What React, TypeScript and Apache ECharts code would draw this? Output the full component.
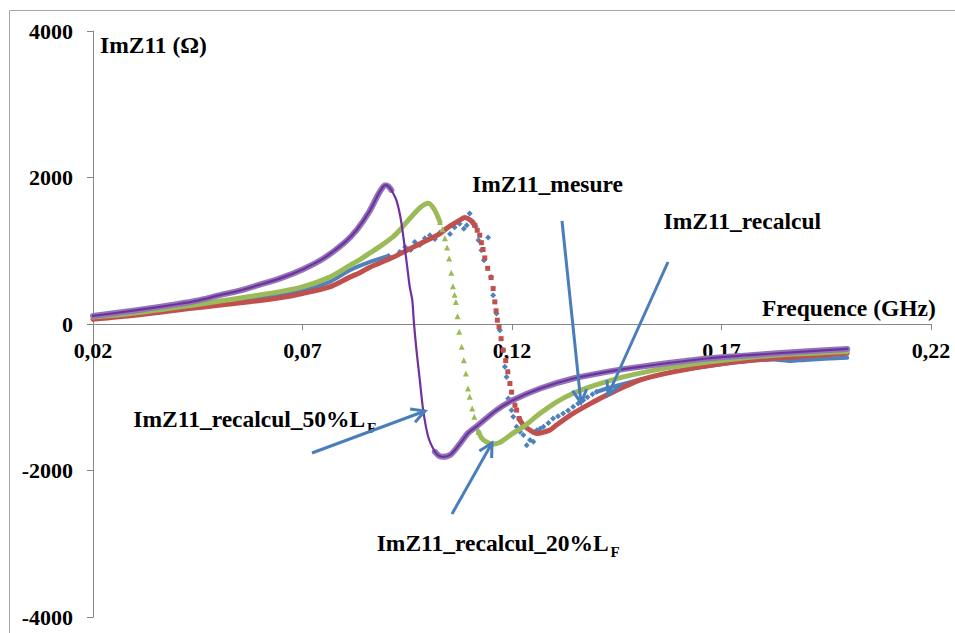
import React, { useEffect, useRef } from 'react';
import * as echarts from 'echarts';

type Pt = [number, number];

// ---- data (frequency GHz, ImZ11 Ohm) ----
const blueMesure: Pt[] = [
  [0.02, 80], [0.03, 135], [0.043, 230], [0.05, 275], [0.0574, 325], [0.065, 400], [0.07, 460],
  [0.0765, 575], [0.0813, 734], [0.0861, 847], [0.0905, 930],
  [0.0932, 984], [0.0945, 1050], [0.0958, 1010], [0.0968, 1120], [0.098, 1080], [0.0992, 1170],
  [0.1004, 1212], [0.1016, 1160], [0.1028, 1250], [0.104, 1290], [0.1052, 1230], [0.1063, 1320],
  [0.1075, 1370], [0.1085, 1300], [0.1092, 1348], [0.1099, 1508], [0.1106, 1400], [0.1113, 1330],
  [0.112, 1143], [0.1127, 1007], [0.1133, 870], [0.1143, 1180], [0.115, 640], [0.1155, 393],
  [0.1163, 143], [0.1171, -85], [0.1179, -357], [0.1183, -585], [0.1187, -722], [0.1191, -1017],
  [0.1199, -1176], [0.1203, -1267], [0.1211, -1404], [0.1219, -1470], [0.1227, -1517], [0.1235, -1654],
  [0.1243, -1585], [0.1251, -1608], [0.1259, -1449], [0.1267, -1430], [0.1275, -1404], [0.1287, -1350],
  [0.1298, -1290], [0.131, -1260], [0.1322, -1221], [0.1334, -1180], [0.1346, -1131], [0.1358, -1085],
  [0.137, -1040], [0.138, -1000], [0.1392, -960],
  [0.1402, -926], [0.1426, -880], [0.1505, -760], [0.1585, -650], [0.1704, -545], [0.1824, -485],
  [0.1864, -505], [0.19, -490], [0.2, -460],
];

const redRecalcul: Pt[] = [
  [0.02, 65], [0.03, 120], [0.043, 210], [0.05, 255], [0.0574, 302], [0.065, 360], [0.07, 416],
  [0.0765, 506], [0.0813, 640], [0.0837, 700], [0.0861, 775], [0.0916, 910], [0.0957, 1030],
  [0.1, 1150], [0.1028, 1235], [0.105, 1330], [0.1075, 1416], [0.1087, 1453], [0.11, 1420], [0.1111, 1348],
  [0.1117, 1280], [0.1123, 1212], [0.1127, 1110], [0.1131, 1017], [0.1135, 902], [0.1142, 760],
  [0.115, 634], [0.1155, 484], [0.1159, 302], [0.1162, 180], [0.1165, 52], [0.1169, -40],
  [0.1174, -200], [0.1179, -357], [0.1185, -500], [0.119, -653], [0.1195, -812], [0.1199, -930],
  [0.1203, -1040], [0.1207, -1110], [0.1211, -1176], [0.1217, -1290],
  [0.1227, -1380], [0.1243, -1449], [0.1259, -1494], [0.129, -1449], [0.1306, -1380], [0.1346, -1221],
  [0.1386, -1090], [0.1426, -971], [0.1505, -767], [0.1585, -653], [0.1704, -539], [0.1824, -471],
  [0.2, -400],
];

const greenRecalcul20: Pt[] = [
  [0.02, 95], [0.03, 150], [0.043, 250], [0.05, 310], [0.0574, 375], [0.065, 445], [0.07, 506],
  [0.0765, 640], [0.0813, 800], [0.0837, 880], [0.0861, 970], [0.0885, 1060], [0.0916, 1190],
  [0.0935, 1300], [0.0956, 1440], [0.0981, 1590], [0.1, 1648], [0.1015, 1560], [0.1028, 1393],
  [0.1034, 1293], [0.104, 1170], [0.1045, 1044], [0.105, 894], [0.1055, 700], [0.1059, 516],
  [0.1063, 400], [0.1066, 302], [0.107, 106], [0.1074, -107], [0.108, -312], [0.1085, -494],
  [0.109, -675], [0.1095, -880], [0.1099, -994], [0.1105, -1153], [0.111, -1267], [0.1115, -1381],
  [0.112, -1470],
  [0.1128, -1560], [0.1139, -1609], [0.1155, -1640], [0.117, -1620], [0.12, -1500], [0.1227, -1404],
  [0.1265, -1230], [0.1307, -1063], [0.1345, -950], [0.1386, -858], [0.1466, -722], [0.1585, -585],
  [0.1704, -494], [0.1824, -426], [0.2, -375],
];

const purpleRecalcul50: Pt[] = [
  [0.02, 110], [0.03, 185], [0.04, 270], [0.045, 320], [0.05, 390], [0.055, 455], [0.06, 540],
  [0.065, 630], [0.07, 745], [0.075, 895], [0.08, 1110], [0.083, 1290], [0.086, 1540], [0.088, 1760],
  [0.0892, 1870], [0.0898, 1895], [0.0905, 1880], [0.0912, 1830], [0.0924, 1690], [0.0935, 1416],
  [0.0948, 870], [0.0956, 506], [0.0962, 325], [0.0966, 10], [0.0972, -357], [0.098, -767],
  [0.0988, -1176], [0.1, -1540], [0.1016, -1745], [0.1026, -1800], [0.1036, -1813], [0.1055, -1775],
  [0.1075, -1640], [0.1095, -1490], [0.1115, -1400], [0.1163, -1176], [0.1202, -1040], [0.1267, -880],
  [0.1346, -744], [0.1426, -653], [0.1505, -585], [0.1665, -471], [0.1824, -403], [0.2, -340],
];

// ranges where the markers are spread out (drawn as separate symbols)
const blueScatterRange: [number, number] = [0.0905, 0.1402];
const redDropRange: [number, number] = [0.1111, 0.1217];
const greenDropRange: [number, number] = [0.1028, 0.112];
const purpleThinRange: [number, number] = [0.0912, 0.1016];

const annotations = {
  mesure: 'ImZ11_mesure',
  recalcul: 'ImZ11_recalcul',
  r50: 'ImZ11_recalcul_50%L',
  r20: 'ImZ11_recalcul_20%L',
  sub: 'F',
  yName: 'ImZ11 (Ω)',
  xName: 'Frequence (GHz)',
};

const FONT = "'Liberation Serif', 'Times New Roman', serif";
const ARROW = '#4A7EBB';
const AXIS = '#868686';

const GRID_TOP = 31;
const GRID_BOTTOM = 16;
const CHART_H = 633;

const outside = (d: Pt[], r: [number, number], side: 'lo' | 'hi') =>
  d.filter((p) => (side === 'lo' ? p[0] <= r[0] : p[0] >= r[1]));
const inside = (d: Pt[], r: [number, number]) => d.filter((p) => p[0] >= r[0] && p[0] <= r[1]);

const lineS = (data: Pt[], color: string, width: number, z: number) => ({
  type: 'line',
  data,
  symbol: 'none',
  showSymbol: false,
  smooth: 0.25,
  lineStyle: { color, width, cap: 'round', join: 'round' },
  z,
  silent: true,
});
const scatS = (data: Pt[], color: string, symbol: string, size: number, z: number) => ({
  type: 'scatter',
  data,
  symbol,
  symbolSize: size,
  itemStyle: { color, opacity: 1 },
  z,
  silent: true,
});

function arrow(x1: number, y1: number, x2: number, y2: number) {
  const ang = Math.atan2(y2 - y1, x2 - x1);
  const L = 15;
  const a = (28 * Math.PI) / 180;
  const p1 = [x2 - L * Math.cos(ang - a), y2 - L * Math.sin(ang - a)];
  const p2 = [x2 - L * Math.cos(ang + a), y2 - L * Math.sin(ang + a)];
  return [
    { type: 'line', shape: { x1, y1, x2, y2 }, style: { stroke: ARROW, lineWidth: 3 }, z: 100 },
    {
      type: 'polyline',
      shape: { points: [p1, [x2, y2], p2] },
      style: { stroke: ARROW, lineWidth: 3, fill: null, lineJoin: 'miter' },
      z: 100,
    },
  ];
}

const txt = (text: string, x: number, y: number, size = 23.5) => ({
  type: 'text',
  x,
  y,
  z: 100,
  style: {
    text,
    fill: '#000',
    fontFamily: FONT,
    fontWeight: 'bold',
    fontSize: size,
    align: 'left',
    verticalAlign: 'middle',
  },
});

export default function App() {
  const ref = useRef<HTMLDivElement>(null);
  useEffect(() => {
    if (!ref.current) return;
    const chart = echarts.init(ref.current, undefined, { renderer: 'svg' });
    // x axis sits on y = 0, which is the middle of the symmetric y range
    const gridH = CHART_H - GRID_TOP - GRID_BOTTOM;
    const option: any = {
      animation: false,
      backgroundColor: '#fff',
      grid: {
        left: 93,
        right: 24,
        top: GRID_TOP,
        bottom: GRID_BOTTOM,
        containLabel: false,
        outerBoundsMode: 'none',
      },
      xAxis: {
        type: 'value',
        position: 'bottom',
        offset: -gridH / 2,
        min: 0.02,
        max: 0.22,
        interval: 0.05,
        axisLine: { show: true, onZero: false, lineStyle: { color: AXIS, width: 1 } },
        axisTick: { show: true, length: 6, lineStyle: { color: AXIS } },
        splitLine: { show: false },
        axisLabel: {
          margin: 15,
          color: '#000',
          fontFamily: FONT,
          fontWeight: 'bold',
          fontSize: 22,
          formatter: (v: number) => v.toFixed(2).replace('.', ','),
        },
      },
      yAxis: {
        type: 'value',
        min: -4000,
        max: 4000,
        interval: 2000,
        axisLine: { show: true, onZero: false, lineStyle: { color: AXIS, width: 1 } },
        axisTick: { show: true, length: 6, lineStyle: { color: AXIS } },
        splitLine: { show: false },
        axisLabel: {
          margin: 20,
          color: '#000',
          fontFamily: FONT,
          fontWeight: 'bold',
          fontSize: 22,
          formatter: (v: number) => String(Math.round(v)),
        },
      },
      series: [
        lineS(outside(blueMesure, blueScatterRange, 'lo'), '#4F81BD', 4, 2),
        scatS(inside(blueMesure, blueScatterRange), '#4F81BD', 'diamond', 6, 2),
        lineS(outside(blueMesure, blueScatterRange, 'hi'), '#4F81BD', 4, 2),
        lineS(outside(redRecalcul, redDropRange, 'lo'), '#C0504D', 5, 3),
        scatS(inside(redRecalcul, redDropRange), '#C0504D', 'rect', 5, 3),
        lineS(outside(redRecalcul, redDropRange, 'hi'), '#C0504D', 5, 3),
        lineS(outside(greenRecalcul20, greenDropRange, 'lo'), '#9BBB59', 5, 4),
        scatS(inside(greenRecalcul20, greenDropRange), '#9BBB59', 'triangle', 6, 4),
        lineS(outside(greenRecalcul20, greenDropRange, 'hi'), '#9BBB59', 5, 4),
        lineS(outside(purpleRecalcul50, purpleThinRange, 'lo'), '#9077B6', 6, 5),
        lineS(outside(purpleRecalcul50, purpleThinRange, 'hi'), '#9077B6', 6, 5),
        lineS(purpleRecalcul50, '#7030A0', 2.2, 6),
      ],
      graphic: [
        { type: 'line', shape: { x1: 9.5, y1: 10.5, x2: 955, y2: 10.5 }, style: { stroke: '#A6A6A6', lineWidth: 1 } },
        { type: 'line', shape: { x1: 9.5, y1: 10.5, x2: 9.5, y2: 633 }, style: { stroke: '#A6A6A6', lineWidth: 1 } },
        txt(annotations.yName, 100, 45),
        txt(annotations.xName, 762, 307.5),
        txt(annotations.mesure, 472, 183.5),
        txt(annotations.recalcul, 663.5, 221.3),
        txt(annotations.r50, 133.3, 418.7),
        txt(annotations.sub, 367, 427.5, 15),
        txt(annotations.r20, 376.7, 543),
        txt(annotations.sub, 610.5, 552.3, 15),
        ...arrow(562, 221, 581, 403),
        ...arrow(668, 262, 608, 395),
        ...arrow(312, 453, 425, 411),
        ...arrow(452, 514, 492, 443),
      ],
    };
    chart.setOption(option);
    return () => chart.dispose();
  }, []);
  return (
    <div
      ref={ref}
      style={{ position: 'absolute', left: 0, top: 0, width: 955, height: 633 }}
    />
  );
}
